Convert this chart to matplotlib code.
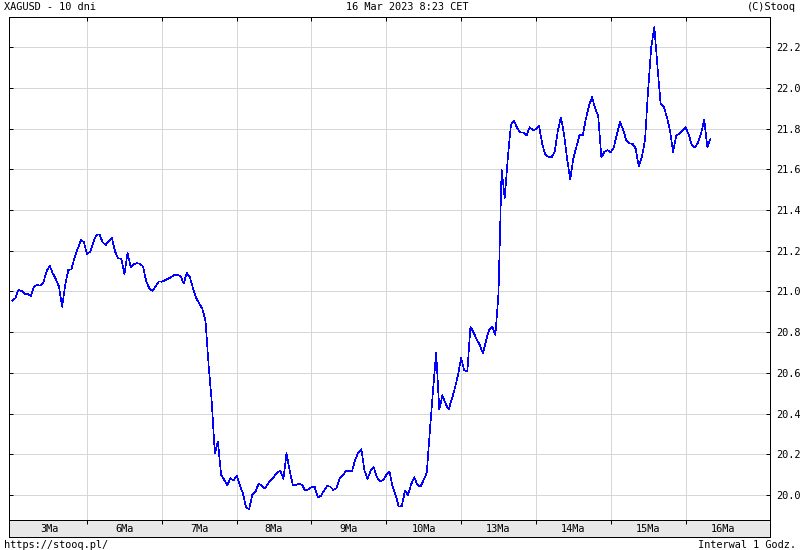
import numpy as np
import matplotlib
matplotlib.use("Agg")
import matplotlib.pyplot as plt

# ---------------- DATA (hourly XAGUSD closes) ----------------

days = ['3Ma', '6Ma', '7Ma', '8Ma', '9Ma', '10Ma', '13Ma', '14Ma', '15Ma', '16Ma']

mar03 = [20.955, 20.967, 21.008, 21.003, 20.988, 20.988, 20.977, 21.024, 21.032, 21.029,
         21.045, 21.098, 21.126, 21.090, 21.060, 21.024, 20.925, 21.032, 21.106, 21.109,
         21.167, 21.209, 21.253, 21.242]
mar06 = [21.183, 21.196, 21.242, 21.278, 21.281, 21.242, 21.229, 21.248, 21.262, 21.196,
         21.163, 21.160, 21.085, 21.190, 21.120, 21.135, 21.139, 21.137, 21.122, 21.049,
         21.016, 21.003, 21.024, 21.049]
mar07 = [21.048, 21.055, 21.063, 21.071, 21.081, 21.081, 21.076, 21.040, 21.090, 21.070,
         21.016, 20.968, 20.942, 20.914, 20.857, 20.639, 20.459, 20.205, 20.262, 20.100,
         20.074, 20.049, 20.082, 20.071]
mar08 = [20.094, 20.049, 20.008, 19.940, 19.930, 20.000, 20.015, 20.054, 20.048, 20.031,
         20.054, 20.074, 20.090, 20.110, 20.120, 20.080, 20.205, 20.120, 20.050, 20.049,
         20.055, 20.050, 20.021, 20.028]
mar09 = [20.038, 20.041, 19.989, 19.995, 20.021, 20.044, 20.041, 20.025, 20.033, 20.079,
         20.095, 20.116, 20.120, 20.116, 20.172, 20.208, 20.225, 20.120, 20.080, 20.120,
         20.136, 20.087, 20.066, 20.074]
mar10 = [20.098, 20.115, 20.044, 20.000, 19.943, 19.946, 20.021, 20.000, 20.054, 20.087,
         20.049, 20.041, 20.074, 20.110, 20.319, 20.516, 20.700, 20.420, 20.490, 20.450,
         20.420, 20.470, 20.524, 20.590]
mar13 = [20.672, 20.614, 20.606, 20.827, 20.798, 20.765, 20.737, 20.696, 20.758, 20.814,
         20.827, 20.786, 20.990, 21.600, 21.460, 21.660, 21.820, 21.840, 21.802, 21.781,
         21.782, 21.767, 21.807, 21.794]
mar14 = [21.797, 21.813, 21.728, 21.672, 21.662, 21.659, 21.684, 21.787, 21.856, 21.777,
         21.654, 21.551, 21.653, 21.712, 21.769, 21.766, 21.846, 21.911, 21.955, 21.900,
         21.862, 21.659, 21.687, 21.694]
mar15 = [21.684, 21.708, 21.774, 21.834, 21.793, 21.744, 21.728, 21.726, 21.703, 21.615,
         21.660, 21.744, 21.990, 22.201, 22.300, 22.105, 21.924, 21.908, 21.859, 21.793,
         21.685, 21.764, 21.777, 21.793]
mar16 = [21.807, 21.772, 21.720, 21.708, 21.731, 21.777, 21.843, 21.710, 21.750]

series = [mar03, mar06, mar07, mar08, mar09, mar10, mar13, mar14, mar15, mar16]

yticks = [20.0, 20.2, 20.4, 20.6, 20.8, 21.0, 21.2, 21.4, 21.6, 21.8, 22.0, 22.2]

# x = hour index, 24 slots per trading day
xs = np.concatenate([i * 24 + np.arange(len(s)) for i, s in enumerate(series)])
ys = np.concatenate([np.array(s) for s in series])

# ---------------- FIGURE ----------------

W, H = 800, 550
FONT = dict(family='DejaVu Sans Mono', size=7.4, color='black')
LW = 0.72  # one pixel at 100 dpi

fig = plt.figure(figsize=(W / 100, H / 100), dpi=100)
fig.patch.set_facecolor('white')


def px(x0, y0, x1, y1):
    return [x0 / W, 1 - y1 / H, (x1 - x0) / W, (y1 - y0) / H]


ax = fig.add_axes(px(9, 17, 770, 520))
ax.plot(xs, ys, color='#0000ff', linewidth=0.45, antialiased=False, zorder=3)

ax.set_xlim(-1.03, 243.1)
ax.set_ylim(19.877, 22.349)

boundaries = [24 * i for i in range(1, 10)]
ax.set_xticks(boundaries)
ax.set_yticks(yticks)
ax.set_yticklabels([f"{v:.1f}" for v in yticks], fontdict=FONT)
ax.grid(True, color='#d6d6d6', linewidth=LW, zorder=0)

ax.tick_params(axis='x', which='both', top=True, bottom=False, labelbottom=False,
               direction='in', length=3, width=LW)
ax.tick_params(axis='y', which='both', left=True, right=True, labelleft=False,
               labelright=True, direction='in', length=3, width=LW, pad=4.5)
for sp in ax.spines.values():
    sp.set_color('black')
    sp.set_linewidth(LW)

# ---------------- DATE BAND ----------------

band = fig.add_axes(px(9, 520, 770, 537))
band.set_facecolor('#e8e8e8')
band.set_xlim(ax.get_xlim())
band.set_ylim(0, 1)
band.set_xticks(boundaries)
band.set_yticks([])
band.tick_params(axis='x', top=True, bottom=False, labelbottom=False,
                 direction='in', length=3, width=LW)
for sp in band.spines.values():
    sp.set_color('black')
    sp.set_linewidth(LW)
for i, d in enumerate(days):
    band.text(i * 24 + 12, 0.45, d, ha='center', va='center', **FONT)

# ---------------- HEADER / FOOTER ----------------

fig.text(4 / W, 1 - 7 / H, "XAGUSD - 10 dni", ha='left', va='center', **FONT)
fig.text(407 / W, 1 - 7 / H, "16 Mar 2023 8:23 CET", ha='center', va='center', **FONT)
fig.text(796 / W, 1 - 7 / H, "(C)Stooq", ha='right', va='center', **FONT)
fig.text(4 / W, 1 - 545 / H, "https://stooq.pl/", ha='left', va='center', **FONT)
fig.text(796 / W, 1 - 545 / H, "Interwal 1 Godz.", ha='right', va='center', **FONT)

fig.savefig("out.png", dpi=100, facecolor='white')
